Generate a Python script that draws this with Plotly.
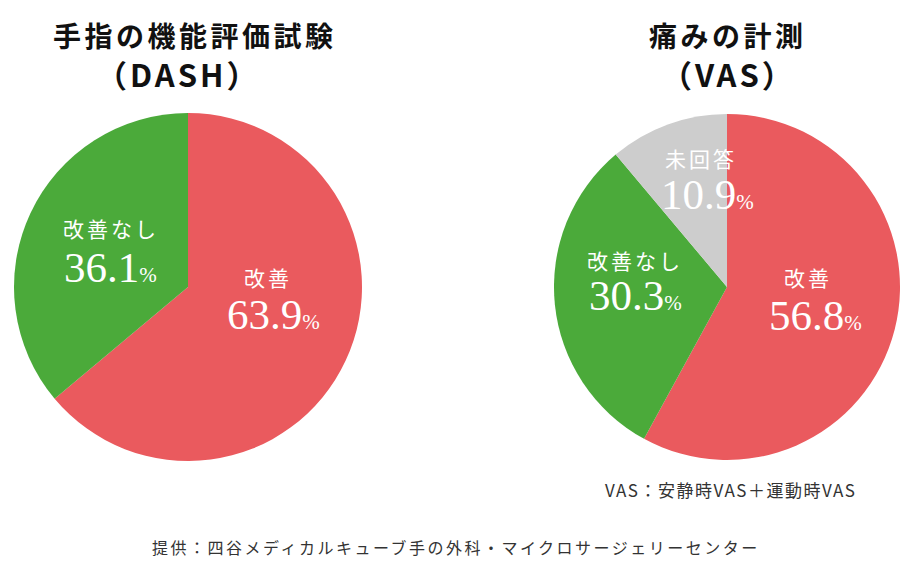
import plotly.graph_objects as go

# page body has an 8px margin; the figure is drawn inside the rest of the window
OFF = 8
W, H = 908 - OFF, 574 - OFF

# ---- data ----
dash_labels = ["改善", "改善なし"]
dash_values = [63.9, 36.1]
vas_labels = ["改善", "改善なし", "未回答"]
vas_values = [56.8, 30.3, 10.9]
slice_colors = {"改善": "#EA5A5E", "改善なし": "#4BAA3A", "未回答": "#CDCDCD"}

title_left = ["手指の機能評価試験", "（DASH）"]
title_right = ["痛みの計測", "（VAS）"]
note_vas = "VAS：安静時VAS＋運動時VAS"
note_source = "提供：四谷メディカルキューブ手の外科・マイクロサージェリーセンター"

# label positions in window pixels (label-name center, value center)
dash_label_pos = {"改善": ((268, 277), (273, 314)), "改善なし": ((111, 228), (110, 268))}
vas_label_pos = {"改善": ((808, 277), (815, 315)), "改善なし": ((635, 260), (635, 295)),
                 "未回答": ((701, 158), (707, 194))}

CJK = "Noto Sans CJK JP"
SERIF = "Liberation Serif"


def px(x, y):
    return (x - OFF) / W, 1 - (y - OFF) / H


def pie_domain(cx, cy, r):
    cx, cy = cx - OFF, cy - OFF
    return dict(x=[(cx - r) / W, (cx + r) / W], y=[1 - (cy + r) / H, 1 - (cy - r) / H])


fig = go.Figure()
fig.add_trace(go.Pie(
    labels=dash_labels, values=dash_values, sort=False, direction="clockwise", rotation=0,
    marker=dict(colors=[slice_colors[l] for l in dash_labels], line=dict(width=0)),
    textinfo="none", hoverinfo="label+value", showlegend=False,
    domain=pie_domain(188, 287, 174),
))
fig.add_trace(go.Pie(
    labels=vas_labels, values=vas_values, sort=False, direction="clockwise", rotation=0,
    marker=dict(colors=[slice_colors[l] for l in vas_labels], line=dict(width=0)),
    textinfo="none", hoverinfo="label+value", showlegend=False,
    domain=pie_domain(727, 287, 173),
))

annotations = []


def add_text(x, y, text, size, color="#111111", family=CJK, ls=0, xanchor="center"):
    ax, ay = px(x, y)
    if ls:
        text = f'<span style="letter-spacing:{ls}px">{text}</span>'
    annotations.append(dict(x=ax, y=ay, xref="paper", yref="paper", text=text, showarrow=False,
                            xanchor=xanchor, yanchor="middle",
                            font=dict(family=family, size=size, color=color)))


for labels, values, pos in ((dash_labels, dash_values, dash_label_pos),
                            (vas_labels, vas_values, vas_label_pos)):
    for lab, val in zip(labels, values):
        (lx, ly), (vx, vy) = pos[lab]
        add_text(lx, ly, lab, 21, color="#FFFFFF", ls=3)
        add_text(vx, vy, f'{val:.1f}<span style="font-size:21px">%</span>', 43,
                 color="#FFFFFF", family=SERIF)

add_text(195, 35, f"<b>{title_left[0]}</b>", 28, ls=3.5)
add_text(178, 73, f"<b>{title_left[1]}</b>", 31, ls=3)
add_text(728, 35, f"<b>{title_right[0]}</b>", 28, ls=3.5)
add_text(728, 73, f"<b>{title_right[1]}</b>", 31, ls=3)

add_text(730, 489, note_vas, 17, color="#333333", ls=1.5)
add_text(456, 547, note_source, 16, color="#333333", ls=2.5)

fig.update_layout(
    width=W, height=H, margin=dict(l=0, r=0, t=0, b=0),
    paper_bgcolor="#FFFFFF", plot_bgcolor="#FFFFFF",
    annotations=annotations,
)

fig.write_html("out.html")
